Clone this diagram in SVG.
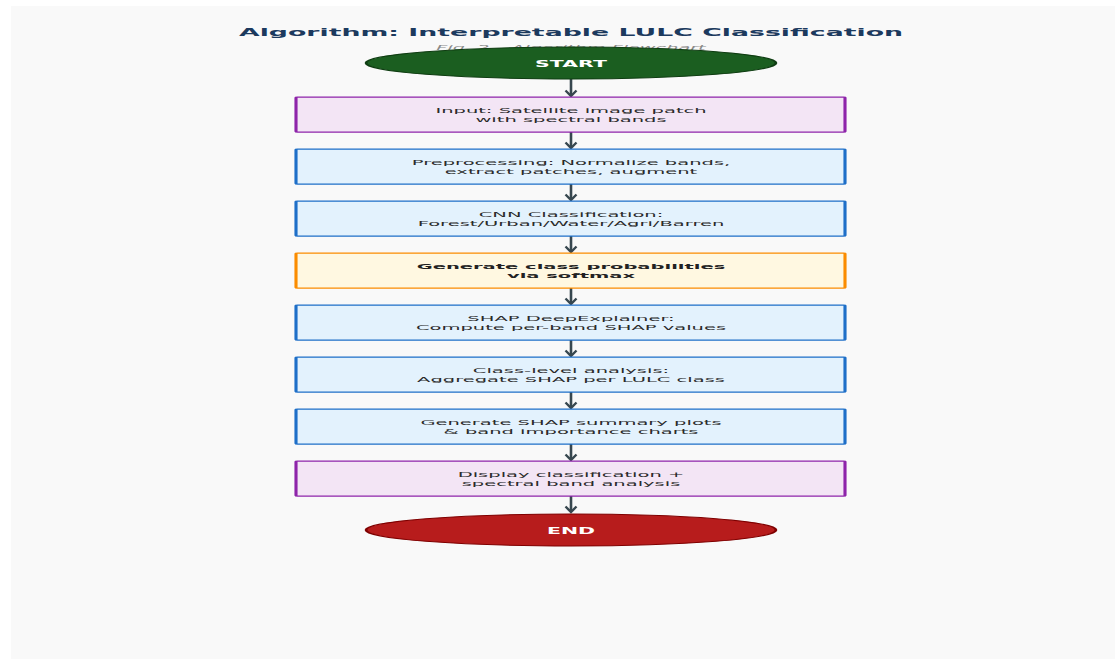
<svg xmlns="http://www.w3.org/2000/svg" width="1115" height="659" viewBox="0 0 1115 659">
<defs>
<style>
.t{font-family:"DejaVu Sans",Verdana,sans-serif;text-anchor:middle}
.title{font-size:10.7px;font-weight:bold;fill:#1c3a5e}
.sub{font-size:7.7px;font-style:italic;fill:#8a8a8a}
.body{font-size:7.8px;fill:#2a2a2a}
.bold{font-size:7.8px;font-weight:bold;fill:#222}
.term{font-size:8.2px;font-weight:bold;fill:#ffffff}
.purple{fill:#f3e5f5;stroke:#8e24aa;stroke-width:1.25}
.blue{fill:#e3f2fd;stroke:#1e6fc8;stroke-width:1.25}
.orange{fill:#fff8e1;stroke:#fb8c00;stroke-width:1.25}
.start{fill:#1b5e20;stroke:#0f3d12;stroke-width:1.1}
.end{fill:#b71c1c;stroke:#7f0000;stroke-width:1.1}
.shaft{stroke:#37474f;stroke-width:2.6;fill:none}
.head{stroke:#37474f;stroke-width:2.4;fill:none;stroke-linejoin:miter}
</style>
</defs>
<rect x="0" y="0" width="1115" height="659" fill="#ffffff"/>
<rect x="11" y="6" width="1104" height="653" fill="#f9f9f9"/>
<g id="title">
<text class="t title" transform="translate(571,36) scale(2.5,1)">Algorithm: Interpretable LULC Classification</text>
<text class="t sub" transform="translate(571,49.5) scale(2.5,1)">Fig. 2 – Algorithm Flowchart</text>
</g>
<g id="connectors">
<path class="shaft" d="M571,79V95"/><path class="head" d="M565.5,90.5L571,96L576.5,90.5"/>
<path class="shaft" d="M571,132V147"/><path class="head" d="M565.5,142.5L571,148L576.5,142.5"/>
<path class="shaft" d="M571,184V199"/><path class="head" d="M565.5,194.5L571,200L576.5,194.5"/>
<path class="shaft" d="M571,236V251"/><path class="head" d="M565.5,246.5L571,252L576.5,246.5"/>
<path class="shaft" d="M571,288V303"/><path class="head" d="M565.5,298.5L571,304L576.5,298.5"/>
<path class="shaft" d="M571,340V355"/><path class="head" d="M565.5,350.5L571,356L576.5,350.5"/>
<path class="shaft" d="M571,392V407"/><path class="head" d="M565.5,402.5L571,408L576.5,402.5"/>
<path class="shaft" d="M571,444V459"/><path class="head" d="M565.5,454.5L571,460L576.5,454.5"/>
<path class="shaft" d="M571,496V511"/><path class="head" d="M565.5,506.5L571,512L576.5,506.5"/>
</g>
<g id="start">
<ellipse class="start" cx="0" cy="63" rx="82" ry="16" transform="translate(571,0) scale(2.5,1)"/>
<text class="t term" transform="translate(571,66.5) scale(2.5,1)">START</text>
</g>
<g id="n1">
<rect class="purple" x="-109.8" y="97" width="219.6" height="35" rx="0.6" transform="translate(570.5,0) scale(2.5,1)"/>
<text class="t body" transform="translate(571,113) scale(2.5,1)">Input: Satellite image patch</text>
<text class="t body" transform="translate(571,121.5) scale(2.5,1)">with spectral bands</text>
</g>
<g id="n2">
<rect class="blue" x="-109.8" y="149" width="219.6" height="35" rx="0.6" transform="translate(570.5,0) scale(2.5,1)"/>
<text class="t body" transform="translate(571,165) scale(2.5,1)">Preprocessing: Normalize bands,</text>
<text class="t body" transform="translate(571,173.5) scale(2.5,1)">extract patches, augment</text>
</g>
<g id="n3">
<rect class="blue" x="-109.8" y="201" width="219.6" height="35" rx="0.6" transform="translate(570.5,0) scale(2.5,1)"/>
<text class="t body" transform="translate(571,217) scale(2.5,1)">CNN Classification:</text>
<text class="t body" transform="translate(571,225.5) scale(2.5,1)">Forest/Urban/Water/Agri/Barren</text>
</g>
<g id="n4">
<rect class="orange" x="-109.8" y="253" width="219.6" height="35" rx="0.6" transform="translate(570.5,0) scale(2.5,1)"/>
<text class="t bold" transform="translate(571,269) scale(2.5,1)">Generate class probabilities</text>
<text class="t bold" transform="translate(571,277.5) scale(2.5,1)">via softmax</text>
</g>
<g id="n5">
<rect class="blue" x="-109.8" y="305" width="219.6" height="35" rx="0.6" transform="translate(570.5,0) scale(2.5,1)"/>
<text class="t body" transform="translate(571,321) scale(2.5,1)">SHAP DeepExplainer:</text>
<text class="t body" transform="translate(571,329.5) scale(2.5,1)">Compute per-band SHAP values</text>
</g>
<g id="n6">
<rect class="blue" x="-109.8" y="357" width="219.6" height="35" rx="0.6" transform="translate(570.5,0) scale(2.5,1)"/>
<text class="t body" transform="translate(571,373) scale(2.5,1)">Class-level analysis:</text>
<text class="t body" transform="translate(571,381.5) scale(2.5,1)">Aggregate SHAP per LULC class</text>
</g>
<g id="n7">
<rect class="blue" x="-109.8" y="409" width="219.6" height="35" rx="0.6" transform="translate(570.5,0) scale(2.5,1)"/>
<text class="t body" transform="translate(571,425) scale(2.5,1)">Generate SHAP summary plots</text>
<text class="t body" transform="translate(571,433.5) scale(2.5,1)">&amp; band importance charts</text>
</g>
<g id="n8">
<rect class="purple" x="-109.8" y="461" width="219.6" height="35" rx="0.6" transform="translate(570.5,0) scale(2.5,1)"/>
<text class="t body" transform="translate(571,477) scale(2.5,1)">Display classification +</text>
<text class="t body" transform="translate(571,485.5) scale(2.5,1)">spectral band analysis</text>
</g>
<g id="end">
<ellipse class="end" cx="0" cy="530" rx="82" ry="16" transform="translate(571,0) scale(2.5,1)"/>
<text class="t term" transform="translate(571,533.5) scale(2.5,1)">END</text>
</g>
</svg>
